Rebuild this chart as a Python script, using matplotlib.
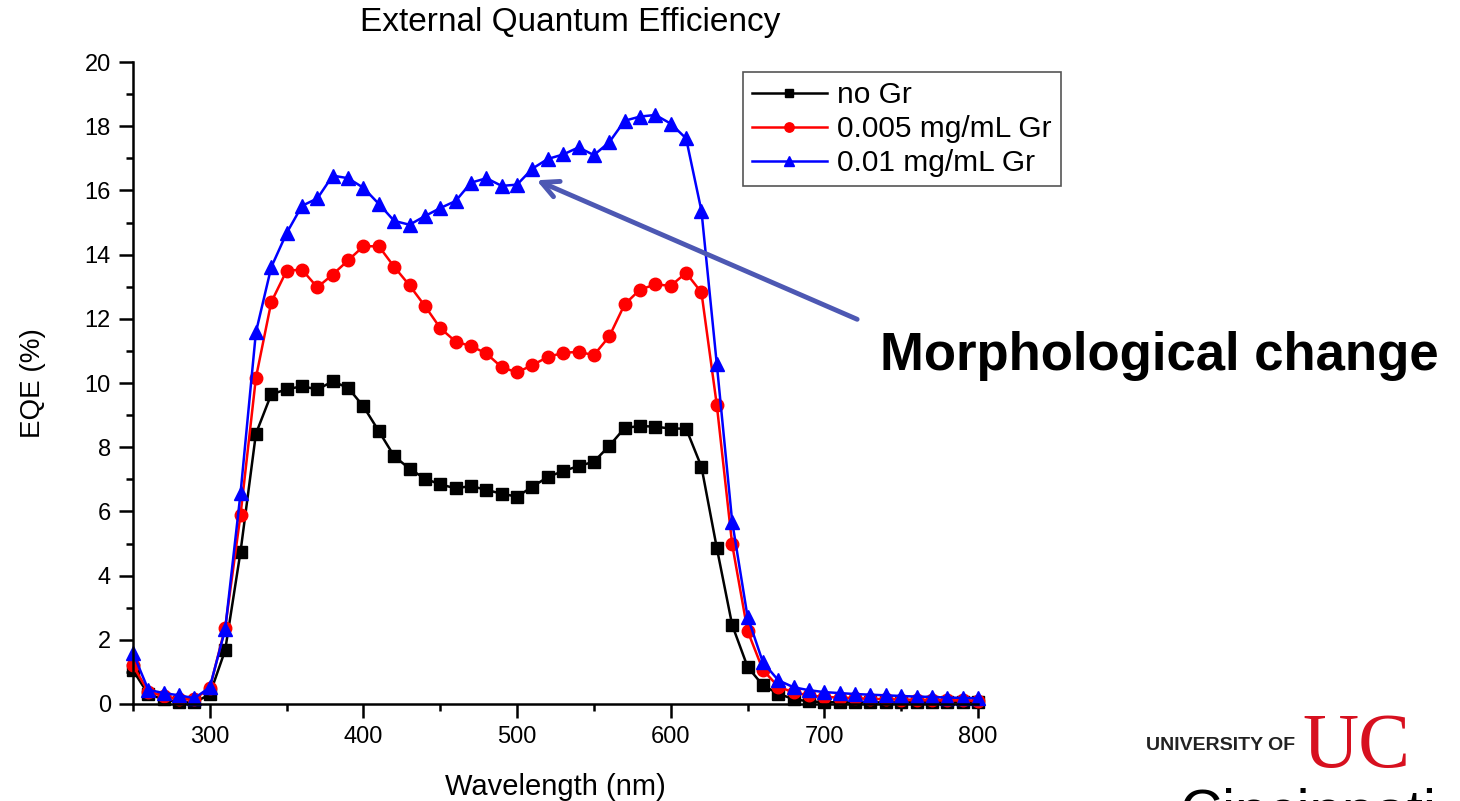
import matplotlib
matplotlib.use("Agg")
import matplotlib.pyplot as plt
from matplotlib.ticker import MultipleLocator

plt.rcParams['font.family'] = ['Liberation Sans', 'DejaVu Sans']

wavelength = list(range(250, 810, 10))

eqe_no_gr = [1.05, 0.3, 0.15, 0.05, 0.05, 0.3, 1.68, 4.75, 8.42, 9.65,
             9.8, 9.9, 9.8, 10.05, 9.85, 9.27, 8.5, 7.72, 7.33, 7.02,
             6.84, 6.72, 6.79, 6.67, 6.55, 6.46, 6.77, 7.07, 7.26, 7.41,
             7.55, 8.04, 8.6, 8.66, 8.64, 8.58, 8.58, 7.39, 4.86, 2.46,
             1.16, 0.58, 0.32, 0.15, 0.08, 0.06, 0.05, 0.05, 0.05, 0.05,
             0.05, 0.05, 0.05, 0.05, 0.05, 0.05]

eqe_005 = [1.2, 0.38, 0.25, 0.15, 0.15, 0.5, 2.38, 5.9, 10.16, 12.52,
           13.5, 13.53, 12.98, 13.38, 13.82, 14.26, 14.26, 13.62, 13.04, 12.4,
           11.71, 11.29, 11.15, 10.92, 10.49, 10.33, 10.56, 10.81, 10.94, 10.97,
           10.87, 11.45, 12.45, 12.91, 13.07, 13.03, 13.43, 12.82, 9.31, 4.97,
           2.28, 1.06, 0.54, 0.36, 0.27, 0.22, 0.2, 0.18, 0.16, 0.15,
           0.14, 0.13, 0.12, 0.12, 0.11, 0.1]

eqe_01 = [1.59, 0.44, 0.34, 0.27, 0.18, 0.52, 2.33, 6.57, 11.58, 13.61,
          14.67, 15.52, 15.75, 16.46, 16.38, 16.08, 15.58, 15.05, 14.93, 15.2,
          15.45, 15.67, 16.24, 16.38, 16.14, 16.18, 16.68, 16.98, 17.12, 17.34,
          17.1, 17.5, 18.17, 18.3, 18.35, 18.08, 17.62, 15.36, 10.58, 5.68,
          2.72, 1.3, 0.74, 0.52, 0.43, 0.37, 0.34, 0.31, 0.29, 0.27,
          0.25, 0.23, 0.22, 0.2, 0.19, 0.18]

labels = ["no Gr", "0.005 mg/mL Gr", "0.01 mg/mL Gr"]

fig = plt.figure(figsize=(14.6, 8.01), dpi=100)
ax = fig.add_axes([133 / 1460, 1 - 704 / 801, 845 / 1460, 642 / 801])

ax.plot(wavelength, eqe_no_gr, color="black", marker="s", ms=8.5, lw=1.8,
        label=labels[0], clip_on=False)
ax.plot(wavelength, eqe_005, color="red", marker="o", ms=9, lw=1.8,
        label=labels[1], clip_on=False)
ax.plot(wavelength, eqe_01, color="blue", marker="^", ms=9.5, lw=1.8,
        label=labels[2], clip_on=False)

ax.set_xlim(250, 800)
ax.set_ylim(0, 20)
ax.xaxis.set_major_locator(MultipleLocator(100))
ax.xaxis.set_minor_locator(MultipleLocator(50))
ax.yaxis.set_major_locator(MultipleLocator(2))
ax.yaxis.set_minor_locator(MultipleLocator(1))
ax.tick_params(which="major", length=10, width=1.8, labelsize=17, pad=6)
ax.tick_params(which="minor", length=5, width=1.8)
ax.spines["top"].set_visible(False)
ax.spines["right"].set_visible(False)
ax.spines["left"].set_linewidth(1.8)
ax.spines["bottom"].set_linewidth(1.8)

ax.set_xlabel("Wavelength (nm)", fontsize=21, labelpad=18)
ax.set_ylabel("EQE (%)", fontsize=20, labelpad=28)
fig.text(570 / 1460, 1 - 23 / 801, "External Quantum Efficiency",
         fontsize=24, ha="center", va="center")

leg = ax.legend(loc="upper left", bbox_to_anchor=(0.722, 0.984),
                borderaxespad=0, fontsize=21.5, handlelength=2.5,
                fancybox=False, framealpha=1, edgecolor="#555555",
                labelspacing=0.2, handletextpad=0.35, borderpad=0.3,
                markerscale=0.75)
leg.get_frame().set_linewidth(1.2)

ax.annotate("", xy=(511, 16.35), xytext=(723, 11.95),
            arrowprops=dict(arrowstyle="->", lw=3.5, color="#4d58b3",
                            mutation_scale=30))

fig.text(880 / 1460, 1 - 356 / 801, "Morphological change",
         fontsize=38, fontweight="bold", ha="left", va="center")

fig.text(1146 / 1460, 1 - 746 / 801, "UNIVERSITY OF", fontsize=14,
         fontweight="bold", ha="left", va="center", color="#222222")
fig.text(1356 / 1460, 1 - 748 / 801, "UC", fontsize=56,
         family="Liberation Serif", color="#d7101f", ha="center",
         va="center")
fig.text(1180 / 1460, -0.035, "Cincinnati", fontsize=42, ha="left",
         va="baseline", color="black")

fig.savefig("out.png", dpi=100)
